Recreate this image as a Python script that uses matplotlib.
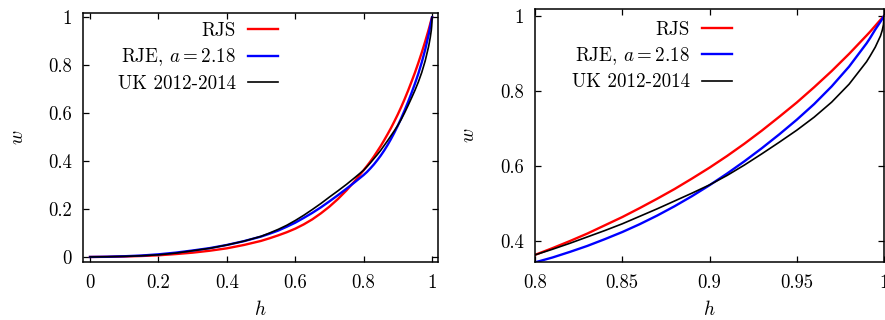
import matplotlib.pyplot as plt
from matplotlib.ticker import FixedLocator, FuncFormatter

plt.rcParams["font.family"] = "serif"
plt.rcParams["font.serif"] = ["cmr10"]
plt.rcParams["mathtext.fontset"] = "cm"
plt.rcParams["axes.formatter.use_mathtext"] = True

# population share h and wealth share w for the three curves
h = [0, 0.05, 0.1, 0.15, 0.2, 0.25, 0.3, 0.35, 0.4, 0.45, 0.5,
     0.525, 0.55, 0.575, 0.6, 0.625, 0.65, 0.675, 0.7, 0.725, 0.75, 0.775, 0.8,
     0.81, 0.82, 0.83, 0.84, 0.85, 0.86, 0.87, 0.88, 0.89, 0.9,
     0.91, 0.92, 0.93, 0.94, 0.95, 0.96, 0.97, 0.98, 0.99,
     0.992, 0.995, 0.998, 0.999, 0.9997, 1.0]
w_rjs = [0, 0.0006, 0.002, 0.004, 0.007, 0.012, 0.018, 0.026, 0.036, 0.05, 0.067,
         0.078, 0.09, 0.103, 0.118, 0.136, 0.157, 0.182, 0.21, 0.242, 0.278, 0.318, 0.362,
         0.380, 0.399, 0.419, 0.441, 0.463, 0.487, 0.512, 0.538, 0.566, 0.595,
         0.626, 0.659, 0.694, 0.731, 0.769, 0.810, 0.853, 0.899, 0.948,
         0.958, 0.974, 0.990, 0.995, 0.9985, 1.0]
w_rje = [0, 0.001, 0.003, 0.006, 0.011, 0.018, 0.027, 0.037, 0.05, 0.066, 0.085,
         0.097, 0.11, 0.126, 0.143, 0.163, 0.184, 0.207, 0.232, 0.258, 0.285, 0.313, 0.342,
         0.355, 0.370, 0.386, 0.404, 0.423, 0.444, 0.467, 0.492, 0.519, 0.548,
         0.579, 0.612, 0.647, 0.684, 0.723, 0.765, 0.812, 0.865, 0.927,
         0.941, 0.964, 0.985, 0.9925, 0.998, 1.0]
w_uk = [0, 0.0008, 0.0025, 0.005, 0.009, 0.016, 0.026, 0.036, 0.05, 0.066, 0.086,
        0.1, 0.115, 0.132, 0.152, 0.174, 0.198, 0.223, 0.25, 0.276, 0.303, 0.332, 0.362,
        0.377, 0.393, 0.410, 0.427, 0.445, 0.465, 0.485, 0.506, 0.527, 0.549,
        0.574, 0.602, 0.632, 0.663, 0.695, 0.730, 0.770, 0.818, 0.878,
        0.893, 0.917, 0.947, 0.962, 0.977, 1.0]

labels = ["RJS", "RJE, $a = 2.18$", "UK 2012-2014"]
colors = ["red", "blue", "black"]
widths = [1.7, 1.7, 1.2]

left_xticks = [0, 0.2, 0.4, 0.6, 0.8, 1]
left_yticks = [0, 0.2, 0.4, 0.6, 0.8, 1]
right_xticks = [0.8, 0.85, 0.9, 0.95, 1]
right_yticks = [0.4, 0.6, 0.8, 1]


def style_axes(ax, xticks, yticks):

    """
    gnuplot-like frame: inward ticks mirrored on all four sides.
    """

    fmt = FuncFormatter(lambda v, pos: "%g" % v)
    ax.xaxis.set_major_locator(FixedLocator(xticks))
    ax.yaxis.set_major_locator(FixedLocator(yticks))
    ax.xaxis.set_major_formatter(fmt)
    ax.yaxis.set_major_formatter(fmt)
    ax.tick_params(axis="both", direction="in", top=True, right=True,
                   length=4, width=0.9, labelsize=13.5)
    ax.tick_params(axis="x", pad=9)
    ax.tick_params(axis="y", pad=8)
    for spine in ax.spines.values():
        spine.set_linewidth(1.1)


def draw_panel(ax, xlim, ylim, legend_x, legend_y):

    series = [w_rjs, w_rje, w_uk]
    for w, label, color, lw in zip(series, labels, colors, widths):
        ax.plot(h, w, color=color, linewidth=lw, label=label)

    ax.set_xlim(*xlim)
    ax.set_ylim(*ylim)
    ax.set_xlabel("$h$", fontsize=14)
    ax.set_ylabel("$w$", fontsize=14)
    ax.legend(loc="upper right", bbox_to_anchor=(legend_x, legend_y),
              frameon=False, markerfirst=False, fontsize=13.7,
              handlelength=1.55, handletextpad=0.65, labelspacing=0.34,
              borderpad=0, borderaxespad=0)


fig = plt.figure(figsize=(8.85, 3.2), dpi=100)

ax1 = fig.add_axes([83/885, 1 - 262/320, 355/885, 249/320])
draw_panel(ax1, (-0.0205, 1.0175), (-0.021, 1.018), 0.549, 0.963)
style_axes(ax1, left_xticks, left_yticks)
ax1.yaxis.set_label_coords(-0.158, 0.5)
ax1.xaxis.set_label_coords(0.5, -0.152)

ax2 = fig.add_axes([535/885, 1 - 262/320, 349/885, 252.7/320])
draw_panel(ax2, (0.8, 1.0), (0.343, 1.018), 0.564, 0.955)
style_axes(ax2, right_xticks, right_yticks)
ax2.yaxis.set_label_coords(-0.164, 0.5)
ax2.xaxis.set_label_coords(0.5, -0.152)

plt.savefig("out.png", dpi=100)
